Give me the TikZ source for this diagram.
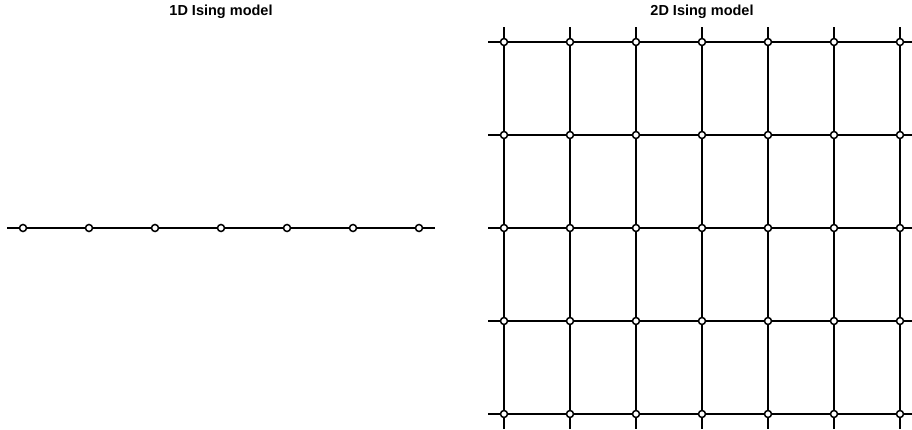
\documentclass[tikz,border=0pt]{standalone}
\usepackage{fontspec}
\setmainfont{Liberation Sans}
\begin{document}
\begin{tikzpicture}[x=1pt,y=-1pt,
  bond/.style={line width=2pt, black},
  spin/.style={circle, draw=black, fill=white, line width=1.5pt, minimum size=7pt, inner sep=0pt},
  ttl/.style={font=\bfseries\fontsize{14.5}{17}\selectfont, anchor=base}]
\useasboundingbox (0,0) rectangle (912,430);
\node[ttl] (t1) at (221,16) {1D Ising model};
\node[ttl] (t2) at (702,16) {2D Ising model};
% 1D chain
\coordinate (s1) at (7,228);
\coordinate (e1) at (435,228);
\foreach \i in {1,...,7} {
  \node[spin] (a\i) at ({23+66*(\i-1)},228) {};
}
\draw[bond] (s1) -- (a1);
\foreach \i [evaluate=\i as \j using int(\i+1)] in {1,...,6} {
  \draw[bond] (a\i) -- (a\j);
}
\draw[bond] (a7) -- (e1);
% 2D grid
\begin{scope}
\clip (0,0) rectangle (912,430);
\foreach \c in {1,...,7} {
  \foreach \r in {1,...,5} {
    \node[spin] (g\c-\r) at ({504+66*(\c-1)},{42+93*(\r-1)}) {};
  }
}
\foreach \r in {1,...,5} {
  \coordinate (hl\r) at (488,{42+93*(\r-1)});
  \coordinate (hr\r) at (916,{42+93*(\r-1)});
  \draw[bond] (hl\r) -- (g1-\r);
  \foreach \c [evaluate=\c as \d using int(\c+1)] in {1,...,6} {
    \draw[bond] (g\c-\r) -- (g\d-\r);
  }
  \draw[bond] (g7-\r) -- (hr\r);
}
\foreach \c in {1,...,7} {
  \coordinate (vt\c) at ({504+66*(\c-1)},27.5);
  \coordinate (vb\c) at ({504+66*(\c-1)},429);
  \draw[bond] (vt\c) -- (g\c-1);
  \foreach \r [evaluate=\r as \q using int(\r+1)] in {1,...,4} {
    \draw[bond] (g\c-\r) -- (g\c-\q);
  }
  \draw[bond] (g\c-5) -- (vb\c);
}
\end{scope}
\end{tikzpicture}
\end{document}
